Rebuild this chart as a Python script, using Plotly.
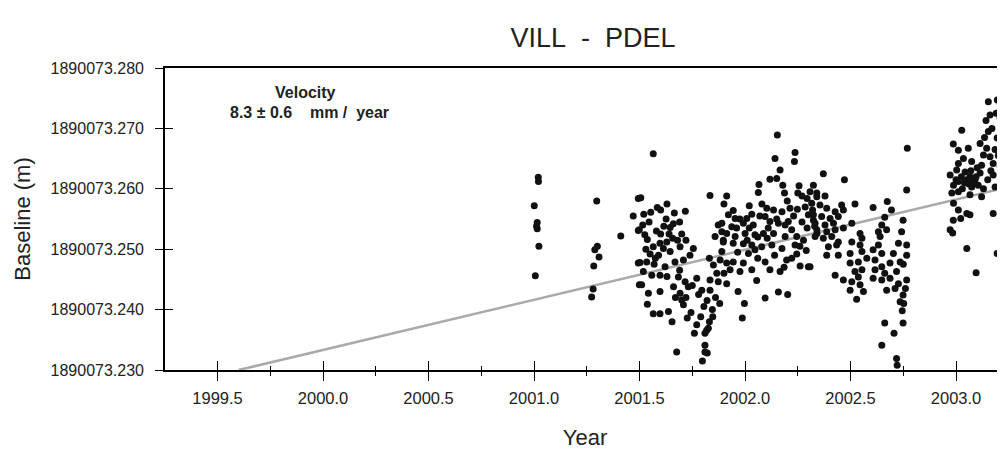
import plotly.graph_objects as go

# ---- data: (decimal year, baseline length in m) ----
seg_2001_0 = [(2001.020, 1890073.2619), (2001.021, 1890073.2612), (2001.001, 1890073.2572),
              (2001.015, 1890073.2544), (2001.012, 1890073.2538), (2001.015, 1890073.2534),
              (2001.023, 1890073.2505), (2001.006, 1890073.2456)]

seg_2001_3 = [(2001.297, 1890073.2580), (2001.300, 1890073.2505), (2001.288, 1890073.2499),
              (2001.308, 1890073.2487), (2001.283, 1890073.2472), (2001.280, 1890073.2434),
              (2001.273, 1890073.2421), (2001.411, 1890073.2522)]

seg_2001_5 = [(2001.494, 1890073.2584), (2001.494, 1890073.2531), (2001.494, 1890073.2477),
              (2001.499, 1890073.2441),
              (2001.565, 1890073.2658), (2001.506, 1890073.2585), (2001.584, 1890073.2569),
              (2001.553, 1890073.2561), (2001.717, 1890073.2563), (2001.834, 1890073.2589),
              (2001.913, 1890073.2588),
              (2001.515, 1890073.2540), (2001.499, 1890073.2532), (2001.525, 1890073.2524),
              (2001.537, 1890073.2516), (2001.626, 1890073.2550), (2001.645, 1890073.2536),
              (2001.657, 1890073.2518), (2001.629, 1890073.2512), (2001.597, 1890073.2510),
              (2001.565, 1890073.2504), (2001.613, 1890073.2501), (2001.645, 1890073.2496),
              (2001.692, 1890073.2504), (2001.755, 1890073.2501), (2001.739, 1890073.2490),
              (2001.708, 1890073.2482), (2001.668, 1890073.2479), (2001.502, 1890073.2478),
              (2001.534, 1890073.2479), (2001.569, 1890073.2475), (2001.621, 1890073.2471),
              (2001.518, 1890073.2463), (2001.558, 1890073.2457), (2001.597, 1890073.2457),
              (2001.684, 1890073.2454), (2001.716, 1890073.2446), (2001.731, 1890073.2438),
              (2001.771, 1890073.2452),
              (2001.580, 1890073.2530), (2001.600, 1890073.2525), (2001.615, 1890073.2538),
              (2001.640, 1890073.2525), (2001.660, 1890073.2542), (2001.590, 1890073.2490),
              (2001.680, 1890073.2515), (2001.700, 1890073.2525), (2001.720, 1890073.2515),
              (2001.550, 1890073.2492), (2001.530, 1890073.2500), (2001.575, 1890073.2485),
              (2001.630, 1890073.2455), (2001.670, 1890073.2420), (2001.690, 1890073.2465),
              (2001.520, 1890073.2558), (2001.545, 1890073.2545), (2001.600, 1890073.2565),
              (2001.630, 1890073.2575), (2001.665, 1890073.2560), (2001.690, 1890073.2545),
              (2001.470, 1890073.2555)]

seg_2001_8 = [(2001.831, 1890073.2485), (2001.850, 1890073.2474), (2001.882, 1890073.2482),
              (2001.913, 1890073.2477), (2001.866, 1890073.2460), (2001.834, 1890073.2449),
              (2001.795, 1890073.2432), (2001.834, 1890073.2432), (2001.873, 1890073.2446),
              (2001.913, 1890073.2443), (2001.510, 1890073.2441), (2001.542, 1890073.2427),
              (2001.597, 1890073.2430), (2001.692, 1890073.2427), (2001.661, 1890073.2438),
              (2001.700, 1890073.2416), (2001.708, 1890073.2408), (2001.537, 1890073.2409),
              (2001.565, 1890073.2393), (2001.597, 1890073.2393), (2001.637, 1890073.2397),
              (2001.654, 1890073.2380), (2001.726, 1890073.2386), (2001.744, 1890073.2395),
              (2001.790, 1890073.2388), (2001.771, 1890073.2375), (2001.831, 1890073.2380),
              (2001.818, 1890073.2366), (2001.810, 1890073.2361), (2001.760, 1890073.2361),
              (2001.810, 1890073.2341), (2001.810, 1890073.2330), (2001.821, 1890073.2328),
              (2001.798, 1890073.2315), (2001.676, 1890073.2330),
              (2001.873, 1890073.2540), (2001.890, 1890073.2529), (2001.858, 1890073.2521),
              (2001.897, 1890073.2515), (2001.847, 1890073.2388), (2001.826, 1890073.2369),
              (2001.720, 1890073.2420), (2001.750, 1890073.2440), (2001.780, 1890073.2425),
              (2001.805, 1890073.2405), (2001.820, 1890073.2415), (2001.845, 1890073.2400),
              (2001.860, 1890073.2420), (2001.880, 1890073.2410), (2001.900, 1890073.2460)]

seg_2002_0 = [(2002.153, 1890073.2689), (2002.142, 1890073.2650), (2002.237, 1890073.2660),
              (2002.234, 1890073.2645), (2002.166, 1890073.2631), (2002.118, 1890073.2616),
              (2002.150, 1890073.2617), (2002.179, 1890073.2606), (2002.066, 1890073.2607),
              (2002.063, 1890073.2594), (2002.256, 1890073.2605), (2002.187, 1890073.2593),
              (2002.250, 1890073.2593), (2002.308, 1890073.2595), (2002.340, 1890073.2587),
              (2002.294, 1890073.2584),
              (2001.944, 1890073.2564), (2001.921, 1890073.2557), (2001.953, 1890073.2551),
              (2002.032, 1890073.2558), (2002.008, 1890073.2551), (2002.103, 1890073.2568),
              (2002.135, 1890073.2565), (2002.175, 1890073.2562), (2002.213, 1890073.2568),
              (2002.248, 1890073.2566), (2002.300, 1890073.2557), (2002.324, 1890073.2548),
              (2001.890, 1890073.2543), (2001.937, 1890073.2537), (2001.992, 1890073.2543),
              (2002.039, 1890073.2540), (2002.095, 1890073.2554), (2002.118, 1890073.2546),
              (2002.158, 1890073.2543), (2002.205, 1890073.2546), (2002.221, 1890073.2532),
              (2002.294, 1890073.2535), (2002.341, 1890073.2526),
              (2001.913, 1890073.2526), (2001.953, 1890073.2521), (2002.000, 1890073.2526),
              (2002.047, 1890073.2524), (2002.087, 1890073.2526), (2002.135, 1890073.2526),
              (2002.190, 1890073.2521), (2002.245, 1890073.2521), (2002.277, 1890073.2515),
              (2001.897, 1890073.2512), (2001.944, 1890073.2510), (2001.992, 1890073.2509),
              (2002.032, 1890073.2507), (2002.079, 1890073.2504), (2002.127, 1890073.2507),
              (2002.175, 1890073.2501), (2002.237, 1890073.2507),
              (2001.890, 1890073.2496), (2002.016, 1890073.2493), (2002.047, 1890073.2499),
              (2002.245, 1890073.2492), (2002.221, 1890073.2485), (2002.197, 1890073.2482),
              (2001.944, 1890073.2479), (2001.992, 1890073.2477), (2002.095, 1890073.2479),
              (2002.261, 1890073.2472), (2002.300, 1890073.2471),
              (2001.929, 1890073.2466), (2001.976, 1890073.2463), (2002.032, 1890073.2466),
              (2002.118, 1890073.2466), (2002.166, 1890073.2463),
              (2002.055, 1890073.2448), (2001.967, 1890073.2430), (2002.095, 1890073.2419),
              (2002.158, 1890073.2429), (2002.202, 1890073.2425), (2001.997, 1890073.2410),
              (2001.987, 1890073.2386),
              (2001.960, 1890073.2535), (2001.975, 1890073.2550), (2002.020, 1890073.2535),
              (2002.060, 1890073.2520), (2002.070, 1890073.2555), (2002.110, 1890073.2535),
              (2002.150, 1890073.2550), (2002.190, 1890073.2540), (2002.230, 1890073.2555),
              (2002.270, 1890073.2545), (2002.285, 1890073.2570), (2002.320, 1890073.2565),
              (2002.330, 1890073.2538), (2002.270, 1890073.2588), (2002.200, 1890073.2580),
              (2002.080, 1890073.2575), (2002.020, 1890073.2572), (2001.965, 1890073.2495),
              (2002.060, 1890073.2485), (2002.140, 1890073.2490), (2002.185, 1890073.2470),
              (2002.260, 1890073.2505), (2002.290, 1890073.2498), (2001.900, 1890073.2575),
              (2002.010, 1890073.2515), (2002.105, 1890073.2518)]

seg_2002_5 = [(2002.371, 1890073.2625), (2002.471, 1890073.2615), (2002.769, 1890073.2667),
              (2002.766, 1890073.2598), (2002.324, 1890073.2606), (2002.340, 1890073.2593),
              (2002.379, 1890073.2588), (2002.316, 1890073.2576), (2002.355, 1890073.2573),
              (2002.387, 1890073.2568), (2002.458, 1890073.2573), (2002.521, 1890073.2575),
              (2002.466, 1890073.2565), (2002.427, 1890073.2562), (2002.324, 1890073.2557),
              (2002.363, 1890073.2554), (2002.403, 1890073.2551), (2002.442, 1890073.2554),
              (2002.607, 1890073.2569), (2002.674, 1890073.2579), (2002.694, 1890073.2565),
              (2002.662, 1890073.2553), (2002.749, 1890073.2548), (2002.332, 1890073.2543),
              (2002.379, 1890073.2540), (2002.419, 1890073.2543), (2002.506, 1890073.2543),
              (2002.648, 1890073.2540),
              (2002.340, 1890073.2532), (2002.387, 1890073.2529), (2002.427, 1890073.2532),
              (2002.466, 1890073.2535), (2002.545, 1890073.2526), (2002.632, 1890073.2529),
              (2002.671, 1890073.2532), (2002.742, 1890073.2529),
              (2002.332, 1890073.2521), (2002.371, 1890073.2518), (2002.411, 1890073.2521),
              (2002.506, 1890073.2512), (2002.442, 1890073.2512), (2002.554, 1890073.2518),
              (2002.640, 1890073.2521),
              (2002.395, 1890073.2504), (2002.434, 1890073.2507), (2002.545, 1890073.2507),
              (2002.632, 1890073.2507), (2002.727, 1890073.2510), (2002.766, 1890073.2507),
              (2002.387, 1890073.2490), (2002.442, 1890073.2490), (2002.498, 1890073.2493),
              (2002.554, 1890073.2496), (2002.607, 1890073.2499), (2002.648, 1890073.2493),
              (2002.703, 1890073.2493), (2002.735, 1890073.2479), (2002.766, 1890073.2490),
              (2002.498, 1890073.2477), (2002.537, 1890073.2479), (2002.577, 1890073.2485),
              (2002.616, 1890073.2482), (2002.687, 1890073.2477), (2002.648, 1890073.2471),
              (2002.521, 1890073.2463), (2002.554, 1890073.2466), (2002.616, 1890073.2466),
              (2002.662, 1890073.2460), (2002.718, 1890073.2463),
              (2002.427, 1890073.2457), (2002.466, 1890073.2449), (2002.537, 1890073.2454),
              (2002.607, 1890073.2452), (2002.648, 1890073.2449), (2002.687, 1890073.2452),
              (2002.727, 1890073.2443), (2002.766, 1890073.2449), (2002.506, 1890073.2446),
              (2002.498, 1890073.2432), (2002.545, 1890073.2441), (2002.671, 1890073.2432),
              (2002.711, 1890073.2435), (2002.561, 1890073.2430), (2002.749, 1890073.2424),
              (2002.735, 1890073.2413), (2002.529, 1890073.2417),
              (2002.662, 1890073.2378), (2002.749, 1890073.2378), (2002.706, 1890073.2361),
              (2002.648, 1890073.2341), (2002.718, 1890073.2319), (2002.721, 1890073.2308),
              (2002.308, 1890073.2471),
              (2002.750, 1890073.2475), (2002.760, 1890073.2435), (2002.752, 1890073.2410),
              (2002.745, 1890073.2398)]

seg_2003_0 = [(2003.224, 1890073.2783), (2003.153, 1890073.2744), (2003.196, 1890073.2747),
              (2003.161, 1890073.2722), (2003.142, 1890073.2713), (2003.209, 1890073.2717),
              (2003.027, 1890073.2697), (2003.153, 1890073.2695), (2003.195, 1890073.2684),
              (2003.217, 1890073.2675), (2003.114, 1890073.2675), (2002.987, 1890073.2674),
              (2003.011, 1890073.2664), (2003.058, 1890073.2667), (2003.145, 1890073.2667),
              (2003.130, 1890073.2656), (2003.161, 1890073.2653), (2003.035, 1890073.2650),
              (2003.074, 1890073.2645), (2003.011, 1890073.2642), (2003.121, 1890073.2639),
              (2003.176, 1890073.2642), (2003.209, 1890073.2637), (2003.003, 1890073.2631),
              (2003.043, 1890073.2628), (2002.972, 1890073.2623), (2003.114, 1890073.2626),
              (2003.176, 1890073.2623), (2003.066, 1890073.2620), (2003.090, 1890073.2615),
              (2003.051, 1890073.2615), (2003.011, 1890073.2612), (2002.988, 1890073.2606),
              (2003.074, 1890073.2603), (2003.105, 1890073.2606), (2003.185, 1890073.2603),
              (2002.980, 1890073.2593), (2003.011, 1890073.2595), (2003.066, 1890073.2590),
              (2003.121, 1890073.2587), (2002.988, 1890073.2576), (2003.217, 1890073.2579),
              (2003.011, 1890073.2565), (2003.051, 1890073.2559), (2003.066, 1890073.2557),
              (2002.987, 1890073.2548), (2003.022, 1890073.2551), (2003.176, 1890073.2559),
              (2002.972, 1890073.2532), (2002.984, 1890073.2527), (2003.051, 1890073.2501),
              (2003.195, 1890073.2493), (2003.095, 1890073.2461),
              (2003.030, 1890073.2600), (2003.040, 1890073.2610), (2003.060, 1890073.2608),
              (2003.080, 1890073.2610), (2003.095, 1890073.2620), (2003.070, 1890073.2630),
              (2003.025, 1890073.2620), (2003.000, 1890073.2615), (2003.130, 1890073.2600),
              (2003.150, 1890073.2615), (2003.165, 1890073.2630), (2003.185, 1890073.2665),
              (2003.200, 1890073.2655), (2003.135, 1890073.2685), (2003.170, 1890073.2700),
              (2003.210, 1890073.2740), (2003.190, 1890073.2725), (2003.100, 1890073.2635)]

segments = [seg_2001_0, seg_2001_3, seg_2001_5, seg_2001_8, seg_2002_0, seg_2002_5, seg_2003_0]
years = [p[0] for s in segments for p in s]
baseline = [p[1] for s in segments for p in s]

# fitted trend (8.3 mm / year), end points
trend_years = [1999.60, 2003.25]
trend_baseline = [1890073.2300, 1890073.2603]

x_range = [1999.251, 2003.232]
y_range = [1890073.230, 1890073.280]
y_ticks = [1890073.230, 1890073.240, 1890073.250, 1890073.260, 1890073.270, 1890073.280]
x_ticks = [1999.5, 2000.0, 2000.5, 2001.0, 2001.5, 2002.0, 2002.5, 2003.0]

FONT = "Liberation Sans, Arial, Helvetica, sans-serif"
TXT = "#222222"
NB = "\u00a0"

# the page body adds an 8 px offset, so the figure is 8 px smaller than the window
W, H = 997, 446

fig = go.Figure()
fig.add_trace(go.Scatter(x=trend_years, y=trend_baseline, mode="lines",
                         line=dict(color="#aaaaaa", width=2.5), hoverinfo="skip",
                         showlegend=False))
fig.add_trace(go.Scatter(x=years, y=baseline, mode="markers",
                         marker=dict(color="#111111", size=7, line=dict(width=0)),
                         showlegend=False))
# empty helper traces so that the overlay axes (inward tick halves) are drawn
fig.add_trace(go.Scatter(x=[None], y=[None], xaxis="x2", yaxis="y", showlegend=False,
                         hoverinfo="skip"))
fig.add_trace(go.Scatter(x=[None], y=[None], xaxis="x", yaxis="y2", showlegend=False,
                         hoverinfo="skip"))

fig.update_layout(
    width=W, height=H,
    margin=dict(l=157, r=0, t=60, b=84, autoexpand=False),
    paper_bgcolor="white", plot_bgcolor="white",
    font=dict(family=FONT, color=TXT),
    title=dict(text=f"VILL{NB}{NB}-{NB}{NB}PDEL", x=585 / W, xref="container", xanchor="center",
               y=1 - 30 / H, yref="container", yanchor="middle",
               font=dict(size=27, color=TXT, family=FONT)),
    xaxis=dict(range=x_range, tickvals=x_ticks, tickformat=".1f", automargin=False,
               ticks="outside", ticklen=9, tickwidth=1.3, tickcolor="black",
               minor=dict(dtick=0.25, tick0=1999.5, ticks="outside", ticklen=4.5,
                          tickwidth=1.1, tickcolor="black"),
               showline=True, linecolor="black", linewidth=1.6, mirror=True,
               showgrid=False, zeroline=False,
               tickfont=dict(size=16.5, color=TXT), ticklabelstandoff=3,
               title=dict(text="Year", font=dict(size=22, color=TXT), standoff=24)),
    xaxis2=dict(range=x_range, overlaying="x", anchor="y", side="bottom", automargin=False,
                tickvals=x_ticks, ticks="inside", ticklen=9, tickwidth=1.3, tickcolor="black",
                minor=dict(dtick=0.25, tick0=1999.5, ticks="inside", ticklen=4.5,
                           tickwidth=1.1, tickcolor="black"),
                showticklabels=False, showline=False, showgrid=False, zeroline=False),
    yaxis=dict(range=y_range, tickvals=y_ticks, tickformat=".3f", automargin=False,
               ticks="outside", ticklen=8, tickwidth=1.3, tickcolor="black",
               showline=True, linecolor="black", linewidth=1.6, mirror=False,
               showgrid=False, zeroline=False,
               tickfont=dict(size=16, color=TXT), ticklabelstandoff=8,
               title=dict(text="Baseline (m)", font=dict(size=22, color=TXT), standoff=14)),
    yaxis2=dict(range=y_range, overlaying="y", anchor="x", side="left", automargin=False,
                tickvals=y_ticks, ticks="inside", ticklen=8, tickwidth=1.3, tickcolor="black",
                showticklabels=False, showline=False, showgrid=False, zeroline=False),
    annotations=[
        dict(text="<b>Velocity</b>", x=0.1667, y=0.9205, xref="paper", yref="paper",
             showarrow=False, xanchor="center", yanchor="middle",
             font=dict(size=16, color=TXT, family=FONT)),
        dict(text=f"<b>8.3 ± 0.6{NB}{NB}{NB} mm /{NB}{NB}year</b>", x=0.1726, y=0.851,
             xref="paper", yref="paper", showarrow=False, xanchor="center",
             yanchor="middle", font=dict(size=16, color=TXT, family=FONT)),
    ],
)

fig.write_html("out.html")
